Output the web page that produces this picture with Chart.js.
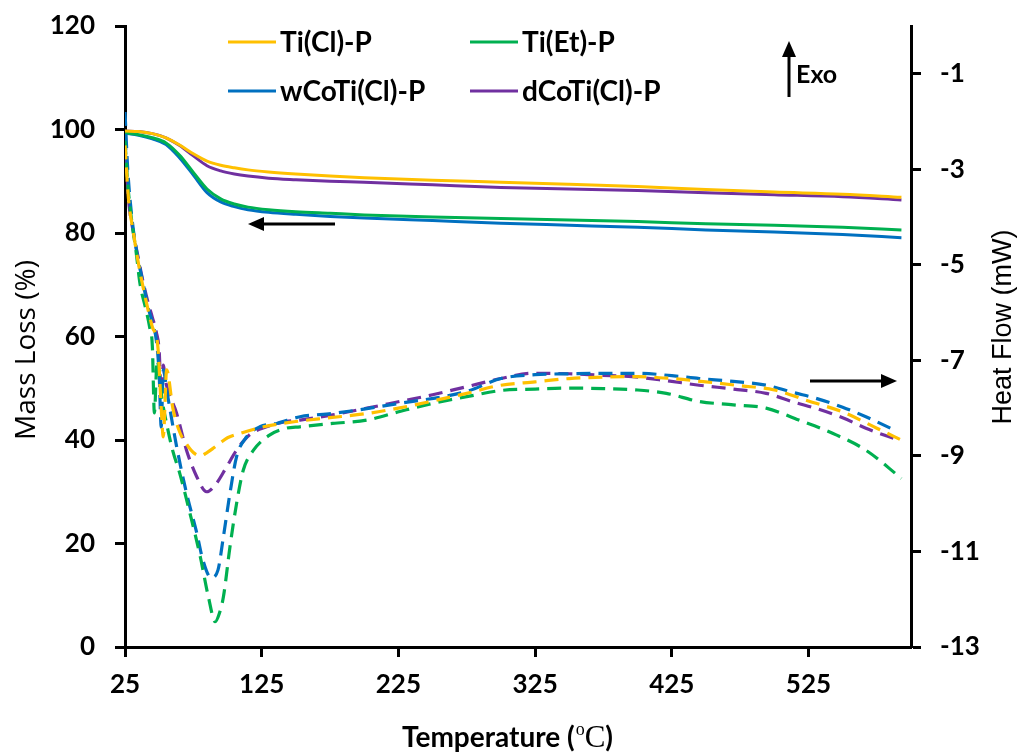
<!DOCTYPE html>
<html><head><meta charset="utf-8">
<script src="https://cdn.jsdelivr.net/npm/chart.js@4"></script>
<style>html,body{margin:0;padding:0;background:#fff;}#wrap{width:1027px;height:754px;}</style>
</head><body><div id="wrap"><canvas id="c" width="1027" height="754"></canvas></div>
<script>
// ---------- DATA ----------
const seriesNames = ['Ti(Cl)-P', 'Ti(Et)-P', 'wCoTi(Cl)-P', 'dCoTi(Cl)-P'];
const seriesColors = ['#FFC000', '#00B050', '#0070C0', '#7030A0'];

// Mass loss (%) vs temperature (solid lines, left axis)
const massTemp   = [25, 35, 45, 55, 65, 75, 85, 95, 105, 115, 130, 150, 175, 200, 250, 300, 350, 400, 450, 500, 550, 593];
const massTiCl   = [99.7, 99.6, 99.2, 98.4, 97.0, 95.3, 93.9, 93.1, 92.6, 92.2, 91.8, 91.4, 91.0, 90.7, 90.2, 89.8, 89.4, 89.0, 88.4, 87.9, 87.5, 86.9];
const massTiEt   = [99.3, 99.0, 98.4, 97.4, 95.0, 91.7, 88.5, 86.6, 85.6, 85.0, 84.5, 84.1, 83.8, 83.5, 83.1, 82.8, 82.5, 82.2, 81.8, 81.5, 81.1, 80.6];
const massWCoTi  = [99.3, 98.9, 98.2, 97.1, 94.5, 91.2, 87.8, 86.0, 85.1, 84.5, 84.0, 83.6, 83.2, 82.9, 82.4, 81.9, 81.5, 81.1, 80.6, 80.2, 79.7, 79.1];
const massDCoTi  = [99.7, 99.6, 99.2, 98.4, 96.9, 94.9, 93.0, 92.0, 91.4, 91.0, 90.6, 90.3, 90.0, 89.8, 89.3, 88.8, 88.5, 88.2, 87.8, 87.4, 87.0, 86.4];

// Heat flow (mW) vs temperature (dashed lines, right axis)
const hfTempTiCl = [25, 27.5, 31, 35, 40, 45, 49, 51.5, 53, 55.5, 60, 65, 70, 75, 80, 85, 90, 95, 100, 110, 125, 150, 175, 200, 225, 250, 275, 300, 325, 350, 375, 400, 425, 450, 475, 500, 525, 550, 575, 593];
const hfTiCl     = [-2.5, -3.6, -4.3, -5.0, -5.7, -6.3, -6.7, -8.0, -8.6, -7.2, -8.0, -8.5, -8.75, -8.93, -9.0, -8.93, -8.83, -8.72, -8.62, -8.52, -8.4, -8.28, -8.2, -8.12, -8.0, -7.85, -7.69, -7.52, -7.45, -7.38, -7.35, -7.34, -7.38, -7.45, -7.53, -7.62, -7.85, -8.08, -8.42, -8.67];

const hfTempTiEt = [25, 27, 30, 33, 36, 40, 43, 45, 46.5, 48.5, 52, 56, 60, 65, 72.5, 80, 86, 91, 94, 97, 101.8, 106.6, 111.5, 119, 131, 143, 153, 177, 202, 226, 250, 275, 300, 325, 350, 375, 400, 421, 445, 470, 494, 518, 543, 567, 593];
const hfTiEt     = [-2.4, -3.3, -4.1, -4.7, -5.4, -5.9, -6.3, -6.7, -8.1, -7.0, -7.8, -8.4, -8.9, -9.36, -10.2, -11.1, -11.95, -12.47, -12.3, -11.95, -10.9, -10.0, -9.3, -8.88, -8.56, -8.42, -8.39, -8.32, -8.25, -8.07, -7.9, -7.76, -7.63, -7.6, -7.58, -7.59, -7.62, -7.69, -7.86, -7.93, -8.0, -8.25, -8.53, -8.88, -9.47];

const hfTempWCoTi = [25, 27, 30, 34, 38, 42, 45, 48, 50, 51.5, 53, 55.5, 62.8, 70, 77.4, 82, 88, 93, 97, 101.8, 106.6, 114, 123.7, 136, 153, 177, 226, 275, 300, 325, 350, 375, 400, 425, 445, 470, 494, 515, 530, 550, 567, 588];
const hfWCoTi     = [-1.8, -3.0, -4.0, -4.8, -5.35, -5.9, -6.2, -6.6, -7.3, -8.4, -7.2, -7.62, -8.81, -9.78, -10.6, -11.18, -11.55, -11.39, -10.69, -9.78, -9.02, -8.6, -8.39, -8.32, -8.18, -8.11, -7.9, -7.65, -7.38, -7.3, -7.28, -7.27, -7.27, -7.32, -7.38, -7.44, -7.52, -7.68, -7.79, -7.98, -8.18, -8.46];

const hfTempDCoTi = [25, 27.5, 31, 35, 38.4, 42, 45, 48, 50, 51.5, 53, 54.5, 62.8, 70, 77.4, 84.7, 92, 99.3, 106.6, 116, 128.6, 143, 153, 177, 202, 226, 250, 275, 300, 323, 350, 372, 396, 420, 445, 470, 494, 515, 530, 550, 567, 591];
const hfDCoTi     = [-2.3, -3.6, -4.3, -4.9, -5.38, -5.8, -6.1, -6.42, -6.8, -7.7, -7.1, -7.41, -8.11, -8.88, -9.43, -9.75, -9.57, -9.23, -8.88, -8.56, -8.39, -8.28, -8.25, -8.14, -8.0, -7.86, -7.72, -7.55, -7.38, -7.27, -7.28, -7.31, -7.34, -7.42, -7.52, -7.6, -7.69, -7.88, -8.0, -8.2, -8.42, -8.67];

const xTicks = [25, 125, 225, 325, 425, 525];
const leftTicks = [0, 20, 40, 60, 80, 100, 120];
const rightTicks = [-13, -11, -9, -7, -5, -3, -1];

// ---------- BUILD ----------
const pts = (xs, ys) => xs.map((x, i) => ({x: x, y: ys[i]}));
const massSeries = [massTiCl, massTiEt, massWCoTi, massDCoTi];
const hfTemps = [hfTempTiCl, hfTempTiEt, hfTempWCoTi, hfTempDCoTi];
const hfSeries = [hfTiCl, hfTiEt, hfWCoTi, hfDCoTi];

const datasets = [];
hfSeries.forEach((s, i) => datasets.push({
  label: seriesNames[i] + ' HF', data: pts(hfTemps[i], s), yAxisID: 'y2',
  borderColor: seriesColors[i], borderWidth: 3.2, borderDash: [14, 8], pointRadius: 0,
  cubicInterpolationMode: 'monotone', fill: false
}));
massSeries.forEach((s, i) => datasets.push({
  label: seriesNames[i], data: pts(massTemp, s), yAxisID: 'y',
  borderColor: seriesColors[i], borderWidth: 3, pointRadius: 0,
  cubicInterpolationMode: 'monotone', fill: false
}));

const tickFont = {family: 'Lato', size: 26, weight: 'bold'};
const axisCommon = {
  grid: {drawOnChartArea: false, drawTicks: true, tickLength: 10, tickWidth: 3, tickColor: '#000'},
  border: {display: true, color: '#000', width: 3}
};

function arrow(ctx, x1, y1, x2, y2) {
  const ang = Math.atan2(y2 - y1, x2 - x1), hl = 16, hw = 7;
  const bx = x2 - hl * Math.cos(ang), by = y2 - hl * Math.sin(ang);
  ctx.beginPath(); ctx.moveTo(x1, y1); ctx.lineTo(bx, by); ctx.stroke();
  ctx.beginPath(); ctx.moveTo(x2, y2);
  ctx.lineTo(bx + hw * Math.sin(ang), by - hw * Math.cos(ang));
  ctx.lineTo(bx - hw * Math.sin(ang), by + hw * Math.cos(ang));
  ctx.closePath(); ctx.fill();
}

const decor = {
  id: 'decor',
  afterDraw(chart) {
    const ctx = chart.ctx;
    ctx.save();
    // legend
    const items = [[228, 42, 0], [470, 42, 1], [228, 91, 2], [470, 91, 3]];
    ctx.font = 'bold 28px Lato';
    ctx.textBaseline = 'middle'; ctx.textAlign = 'left';
    items.forEach(([x, y, i]) => {
      ctx.strokeStyle = seriesColors[i]; ctx.lineWidth = 3; ctx.setLineDash([]);
      ctx.beginPath(); ctx.moveTo(x, y); ctx.lineTo(x + 48, y); ctx.stroke();
      ctx.fillStyle = '#000'; ctx.fillText(seriesNames[i], x + 52, y + 1);
    });
    // arrows
    ctx.strokeStyle = '#000'; ctx.fillStyle = '#000'; ctx.lineWidth = 3;
    arrow(ctx, 335, 224, 248, 224);
    arrow(ctx, 810, 381, 897, 381);
    arrow(ctx, 789, 97, 789, 41);
    ctx.font = 'bold 25px Lato'; ctx.textAlign = 'left'; ctx.textBaseline = 'middle';
    ctx.fillText('Exo', 796, 75);
    // axis titles
    ctx.save();
    ctx.translate(27, 350); ctx.rotate(-Math.PI / 2);
    ctx.font = '28px "Open Sans"'; ctx.textAlign = 'center'; ctx.textBaseline = 'middle';
    ctx.fillText('Mass Loss (%)', 0, 0);
    ctx.restore();
    ctx.save();
    ctx.translate(1004, 327); ctx.rotate(-Math.PI / 2);
    ctx.font = '27px "Liberation Sans"'; ctx.textAlign = 'center'; ctx.textBaseline = 'middle';
    ctx.fillText('Heat Flow (mW)', 0, 0);
    ctx.restore();
    // x title with serif unit
    ctx.textBaseline = 'alphabetic'; ctx.textAlign = 'left';
    let x = 402; const yb = 747;
    ctx.font = 'bold 28px Lato'; const t1 = 'Temperature (';
    ctx.fillText(t1, x, yb); x += ctx.measureText(t1).width;
    ctx.font = '18px "Liberation Serif"'; ctx.fillText('o', x + 1, yb - 12); x += ctx.measureText('o').width + 1;
    ctx.font = '31px "Liberation Serif"'; ctx.fillText('C', x, yb);
    x += ctx.measureText('C').width;
    ctx.font = 'bold 28px Lato'; ctx.fillText(')', x, yb);
    ctx.restore();
  }
};

new Chart(document.getElementById('c'), {
  type: 'line',
  data: {datasets: datasets},
  options: {
    responsive: false, animation: false,
    layout: {padding: {top: 26, left: 0, right: 0, bottom: 0}},
    plugins: {legend: {display: false}, tooltip: {enabled: false}},
    scales: {
      x: Object.assign({}, axisCommon, {
        type: 'linear', position: 'bottom', min: 25, max: 600,
        afterBuildTicks: a => { a.ticks = xTicks.map(v => ({value: v})); },
        afterFit: s => { s.height = 107; s.paddingLeft = 0; s.paddingRight = 0; },
        ticks: {font: tickFont, color: '#000', padding: 12, maxRotation: 0, autoSkip: false}
      }),
      y: Object.assign({}, axisCommon, {
        type: 'linear', position: 'left', min: 0, max: 120,
        afterBuildTicks: a => { a.ticks = leftTicks.map(v => ({value: v})); },
        afterFit: s => { s.width = 125; s.paddingTop = 0; s.paddingBottom = 0; },
        ticks: {font: tickFont, color: '#000', padding: 20}
      }),
      y2: Object.assign({}, axisCommon, {
        type: 'linear', position: 'right', min: -13, max: 0,
        afterBuildTicks: a => { a.ticks = rightTicks.map(v => ({value: v})); },
        afterFit: s => { s.width = 116; s.paddingTop = 0; s.paddingBottom = 0; },
        ticks: {font: tickFont, color: '#000', padding: 19}
      })
    }
  },
  plugins: [decor]
});
</script>
</body></html>
